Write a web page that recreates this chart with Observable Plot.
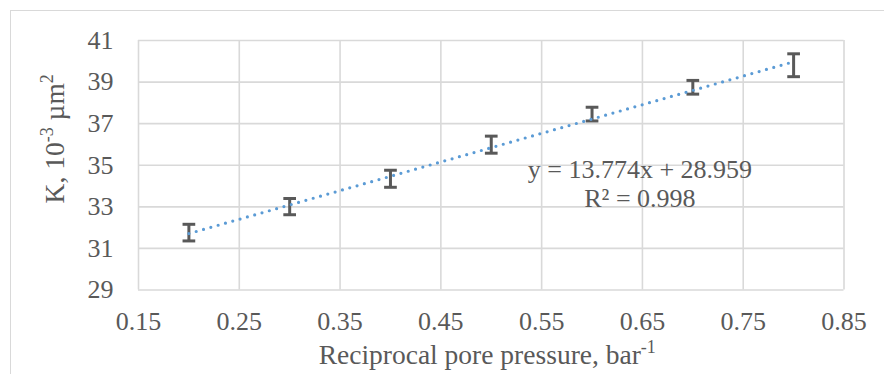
<!DOCTYPE html>
<html><head><meta charset="utf-8">
<script src="https://cdn.jsdelivr.net/npm/d3@7"></script>
<script src="https://cdn.jsdelivr.net/npm/@observablehq/plot@0.6"></script>
<style>
html,body{margin:0;padding:0;background:#fff;overflow:hidden;}
#wrap{position:relative;width:884px;height:374px;}
#border{position:absolute;left:10px;top:10px;width:900px;height:400px;border:1.5px solid #d9d9d9;box-sizing:border-box;pointer-events:none;}
#wrap svg{position:absolute;left:0;top:0;}
</style></head><body><div id="wrap"><div id="border"></div></div>
<script>
// Data
const reciprocalPressure = [0.2, 0.3, 0.4, 0.5, 0.6, 0.7, 0.8];
const permeability = [31.76, 33.01, 34.35, 35.99, 37.46, 38.75, 39.81];
const errorAmount = [0.40, 0.39, 0.41, 0.41, 0.33, 0.33, 0.55];
const xTicks = [0.15, 0.25, 0.35, 0.45, 0.55, 0.65, 0.75, 0.85];
const yTicks = [29, 31, 33, 35, 37, 39, 41];
const trendSlope = 13.774;
const trendIntercept = 28.959;
const trendRange = [0.2, 0.8];
const equationLines = ["y = 13.774x + 28.959", "R² = 0.998"];
const yTitle = "K, 10-3 µm2";
const xTitle = "Reciprocal pore pressure, bar-1";

const points = reciprocalPressure.map((x, i) => ({x, y: permeability[i], e: errorAmount[i]}));
const trend = trendRange.map(x => ({x, y: trendSlope * x + trendIntercept}));
const capHalf = 0.0063;
const textColor = "#595959";
const gridColor = "#d9d9d9";

const svg = Plot.plot({
  width: 884,
  height: 374,
  marginLeft: 138,
  marginRight: 40.5,
  marginTop: 40,
  marginBottom: 84.5,
  style: {fontFamily: "'Liberation Serif', 'Times New Roman', serif", fontSize: "26px", color: textColor, background: "transparent", overflow: "visible"},
  x: {domain: [0.15, 0.85]},
  y: {domain: [29, 41]},
  marks: [
    Plot.gridY(yTicks, {stroke: gridColor, strokeOpacity: 1, strokeWidth: 1.6}),
    Plot.gridX(xTicks, {stroke: gridColor, strokeOpacity: 1, strokeWidth: 1.6}),
    Plot.axisX(xTicks, {tickSize: 0, tickPadding: 22, tickFormat: d => d.toFixed(2), label: null}),
    Plot.axisY(yTicks, {tickSize: 0, tickPadding: 25, label: null}),
    Plot.ruleX(points, {x: "x", y1: d => d.y - d.e, y2: d => d.y + d.e, stroke: "#595959", strokeWidth: 3}),
    Plot.link(points, {x1: d => d.x - capHalf, x2: d => d.x + capHalf, y1: d => d.y + d.e, y2: d => d.y + d.e, stroke: "#595959", strokeWidth: 3}),
    Plot.link(points, {x1: d => d.x - capHalf, x2: d => d.x + capHalf, y1: d => d.y - d.e, y2: d => d.y - d.e, stroke: "#595959", strokeWidth: 3}),
    Plot.line(trend, {x: "x", y: "y", stroke: "#5b9bd5", strokeWidth: 3.2, strokeDasharray: "0 7.6", strokeLinecap: "round"}),
    Plot.text([equationLines.join("\n")], {x: () => 0.6475, y: () => 32.98, text: d => d, lineAnchor: "bottom", textAnchor: "middle", lineHeight: 1.13, fill: textColor}),
    Plot.text([yTitle], {frameAnchor: "left", text: d => d, dx: -75, dy: -26.5, rotate: -90, textAnchor: "middle", lineAnchor: "bottom", fill: textColor, fontSize: 27.5}),
    Plot.text([xTitle], {frameAnchor: "bottom", text: d => d, dx: -4, dy: 73.8, textAnchor: "middle", lineAnchor: "bottom", fill: textColor, fontSize: 27.5})
  ]
});

// superscripts in axis titles
const findText = s => d3.select(svg).selectAll("text").filter(function() { return this.textContent === s; });
const yt = findText(yTitle);
yt.text(null);
yt.append("tspan").text("K, 10");
yt.append("tspan").attr("dy", -11).attr("font-size", "18px").text("-3");
yt.append("tspan").attr("dy", 11).text(" µm");
yt.append("tspan").attr("dy", -11).attr("font-size", "18px").text("2");

const xt = findText(xTitle);
xt.text(null);
xt.append("tspan").text("Reciprocal pore pressure, bar");
xt.append("tspan").attr("dy", -11).attr("font-size", "18px").text("-1");

document.getElementById("wrap").appendChild(svg);
</script>
</body></html>
